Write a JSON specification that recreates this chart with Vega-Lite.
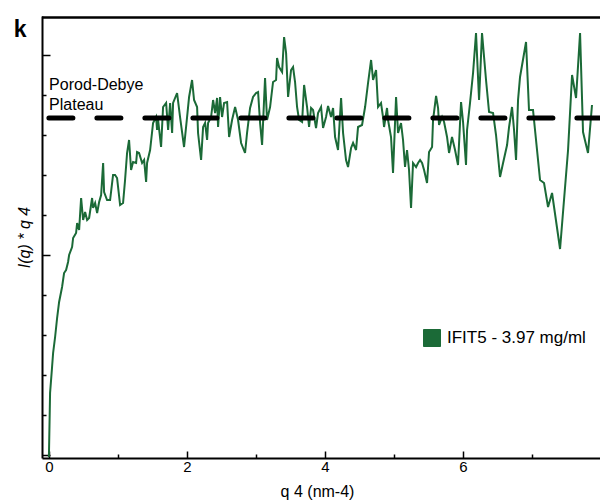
{
  "$schema": "https://vega.github.io/schema/vega-lite/v6.json",
  "width": 558,
  "height": 442,
  "autosize": {"type": "none"},
  "padding": {"left": 42, "top": 16, "right": 0, "bottom": 42},
  "background": "white",
  "config": {
    "view": {"stroke": null},
    "font": "Liberation Sans",
    "axis": {"grid": false, "domainColor": "black", "domainWidth": 2, "tickColor": "black", "tickWidth": 1.5, "labelColor": "black", "titleColor": "black", "labelFont": "Liberation Sans", "titleFont": "Liberation Sans", "titleFontWeight": "normal"}
  },
  "layer": [
    {
      "data": {"values": [{"q0": -0.1, "q1": 8.2, "edge": 4.375}]},
      "mark": {"type": "rule", "strokeWidth": 2.5, "color": "black"},
      "encoding": {
        "x": {"field": "q0", "type": "quantitative", "scale": {"domain": [-0.1, 7.988], "nice": false, "zero": false}},
        "x2": {"field": "q1"},
        "y": {"field": "edge", "type": "quantitative", "scale": {"domain": [-0.03, 4.39], "nice": false, "zero": false}}
      }
    },
    {
      "data": {"values": [
        {"q4":0.0,"Iq4":-0.02},{"q4":0.01,"Iq4":0.35},{"q4":0.017,"Iq4":0.62},{"q4":0.046,"Iq4":0.88},{"q4":0.061,"Iq4":1.02},{"q4":0.09,"Iq4":1.18},{"q4":0.119,"Iq4":1.37},{"q4":0.148,"Iq4":1.53},{"q4":0.191,"Iq4":1.68},{"q4":0.22,"Iq4":1.82},
        {"q4":0.249,"Iq4":1.85},{"q4":0.278,"Iq4":1.93},{"q4":0.293,"Iq4":2.0},{"q4":0.336,"Iq4":2.08},{"q4":0.351,"Iq4":2.17},{"q4":0.394,"Iq4":2.22},{"q4":0.409,"Iq4":2.32},{"q4":0.438,"Iq4":2.25},{"q4":0.467,"Iq4":2.57},{"q4":0.496,"Iq4":2.35},
        {"q4":0.525,"Iq4":2.43},{"q4":0.554,"Iq4":2.35},{"q4":0.583,"Iq4":2.37},{"q4":0.626,"Iq4":2.57},{"q4":0.641,"Iq4":2.47},{"q4":0.67,"Iq4":2.52},{"q4":0.699,"Iq4":2.42},{"q4":0.728,"Iq4":2.53},{"q4":0.757,"Iq4":2.6},{"q4":0.786,"Iq4":2.92},
        {"q4":0.8,"Iq4":2.63},{"q4":0.843,"Iq4":2.55},{"q4":0.887,"Iq4":2.55},{"q4":0.93,"Iq4":2.8},{"q4":0.959,"Iq4":2.8},{"q4":0.988,"Iq4":2.77},{"q4":1.032,"Iq4":2.5},{"q4":1.075,"Iq4":2.52},{"q4":1.104,"Iq4":2.75},{"q4":1.133,"Iq4":3.02},
        {"q4":1.162,"Iq4":3.15},{"q4":1.191,"Iq4":2.85},{"q4":1.22,"Iq4":2.93},{"q4":1.264,"Iq4":2.92},{"q4":1.278,"Iq4":3.03},{"q4":1.307,"Iq4":3.02},{"q4":1.351,"Iq4":2.92},{"q4":1.38,"Iq4":2.95},{"q4":1.409,"Iq4":2.73},{"q4":1.423,"Iq4":2.92},
        {"q4":1.467,"Iq4":3.05},{"q4":1.51,"Iq4":3.32},{"q4":1.554,"Iq4":3.38},{"q4":1.568,"Iq4":3.25},{"q4":1.583,"Iq4":3.35},{"q4":1.626,"Iq4":3.08},{"q4":1.655,"Iq4":3.48},{"q4":1.699,"Iq4":3.52},{"q4":1.728,"Iq4":3.25},{"q4":1.757,"Iq4":3.52},
        {"q4":1.786,"Iq4":3.22},{"q4":1.8,"Iq4":3.52},{"q4":1.858,"Iq4":3.62},{"q4":1.901,"Iq4":3.38},{"q4":1.959,"Iq4":3.08},{"q4":2.003,"Iq4":3.38},{"q4":2.032,"Iq4":3.58},{"q4":2.075,"Iq4":3.75},{"q4":2.104,"Iq4":3.55},{"q4":2.148,"Iq4":3.48},
        {"q4":2.162,"Iq4":3.22},{"q4":2.206,"Iq4":2.95},{"q4":2.235,"Iq4":3.28},{"q4":2.264,"Iq4":3.32},{"q4":2.293,"Iq4":3.15},{"q4":2.307,"Iq4":3.32},{"q4":2.351,"Iq4":3.38},{"q4":2.38,"Iq4":3.55},{"q4":2.409,"Iq4":3.42},{"q4":2.438,"Iq4":3.57},
        {"q4":2.452,"Iq4":3.28},{"q4":2.481,"Iq4":3.58},{"q4":2.51,"Iq4":3.38},{"q4":2.539,"Iq4":3.52},{"q4":2.583,"Iq4":3.53},{"q4":2.612,"Iq4":3.18},{"q4":2.655,"Iq4":3.35},{"q4":2.699,"Iq4":3.48},{"q4":2.742,"Iq4":3.35},{"q4":2.786,"Iq4":3.12},
        {"q4":2.843,"Iq4":3.02},{"q4":2.872,"Iq4":3.22},{"q4":2.916,"Iq4":3.47},{"q4":2.959,"Iq4":3.58},{"q4":3.003,"Iq4":3.62},{"q4":3.032,"Iq4":3.63},{"q4":3.061,"Iq4":3.32},{"q4":3.09,"Iq4":3.1},{"q4":3.133,"Iq4":3.77},{"q4":3.162,"Iq4":3.35},
        {"q4":3.206,"Iq4":3.48},{"q4":3.249,"Iq4":3.73},{"q4":3.293,"Iq4":3.75},{"q4":3.307,"Iq4":3.97},{"q4":3.336,"Iq4":3.88},{"q4":3.38,"Iq4":3.83},{"q4":3.409,"Iq4":4.18},{"q4":3.438,"Iq4":4.02},{"q4":3.467,"Iq4":3.58},{"q4":3.51,"Iq4":3.85},
        {"q4":3.539,"Iq4":3.88},{"q4":3.568,"Iq4":3.73},{"q4":3.597,"Iq4":3.48},{"q4":3.626,"Iq4":3.35},{"q4":3.67,"Iq4":3.33},{"q4":3.699,"Iq4":3.7},{"q4":3.742,"Iq4":3.48},{"q4":3.771,"Iq4":3.28},{"q4":3.8,"Iq4":3.47},{"q4":3.829,"Iq4":3.45},
        {"q4":3.872,"Iq4":3.27},{"q4":3.901,"Iq4":3.42},{"q4":3.945,"Iq4":3.48},{"q4":3.974,"Iq4":3.27},{"q4":4.017,"Iq4":3.38},{"q4":4.046,"Iq4":3.49},{"q4":4.09,"Iq4":3.38},{"q4":4.119,"Iq4":3.47},{"q4":4.148,"Iq4":3.18},{"q4":4.191,"Iq4":3.05},
        {"q4":4.235,"Iq4":3.57},{"q4":4.264,"Iq4":3.22},{"q4":4.307,"Iq4":2.95},{"q4":4.336,"Iq4":2.88},{"q4":4.38,"Iq4":3.07},{"q4":4.409,"Iq4":3.12},{"q4":4.452,"Iq4":3.05},{"q4":4.481,"Iq4":3.28},{"q4":4.539,"Iq4":3.3},{"q4":4.583,"Iq4":3.48},
        {"q4":4.626,"Iq4":3.72},{"q4":4.67,"Iq4":3.95},{"q4":4.699,"Iq4":3.75},{"q4":4.742,"Iq4":3.85},{"q4":4.771,"Iq4":3.48},{"q4":4.814,"Iq4":3.52},{"q4":4.843,"Iq4":3.38},{"q4":4.858,"Iq4":3.28},{"q4":4.901,"Iq4":3.47},{"q4":4.916,"Iq4":3.35},
        {"q4":4.959,"Iq4":3.18},{"q4":4.988,"Iq4":2.82},{"q4":5.032,"Iq4":3.58},{"q4":5.061,"Iq4":3.22},{"q4":5.104,"Iq4":3.32},{"q4":5.133,"Iq4":3.15},{"q4":5.162,"Iq4":2.88},{"q4":5.191,"Iq4":3.05},{"q4":5.22,"Iq4":2.85},{"q4":5.249,"Iq4":2.47},
        {"q4":5.278,"Iq4":2.92},{"q4":5.322,"Iq4":2.88},{"q4":5.351,"Iq4":2.92},{"q4":5.38,"Iq4":2.95},{"q4":5.409,"Iq4":2.92},{"q4":5.438,"Iq4":2.85},{"q4":5.481,"Iq4":2.72},{"q4":5.51,"Iq4":3.03},{"q4":5.554,"Iq4":3.08},{"q4":5.568,"Iq4":3.35},
        {"q4":5.612,"Iq4":3.59},{"q4":5.641,"Iq4":3.47},{"q4":5.655,"Iq4":3.3},{"q4":5.699,"Iq4":3.38},{"q4":5.728,"Iq4":3.33},{"q4":5.771,"Iq4":3.18},{"q4":5.8,"Iq4":3.02},{"q4":5.843,"Iq4":3.18},{"q4":5.887,"Iq4":3.05},{"q4":5.93,"Iq4":2.9},
        {"q4":5.974,"Iq4":3.53},{"q4":6.003,"Iq4":3.33},{"q4":6.046,"Iq4":2.9},{"q4":6.061,"Iq4":3.25},{"q4":6.104,"Iq4":3.52},{"q4":6.148,"Iq4":3.82},{"q4":6.191,"Iq4":4.22},{"q4":6.235,"Iq4":3.55},{"q4":6.278,"Iq4":4.22},{"q4":6.336,"Iq4":3.75},
        {"q4":6.38,"Iq4":3.43},{"q4":6.438,"Iq4":3.42},{"q4":6.481,"Iq4":3.2},{"q4":6.539,"Iq4":2.78},{"q4":6.583,"Iq4":2.92},{"q4":6.641,"Iq4":3.1},{"q4":6.67,"Iq4":3.28},{"q4":6.713,"Iq4":3.48},{"q4":6.742,"Iq4":3.25},{"q4":6.771,"Iq4":2.95},
        {"q4":6.8,"Iq4":3.55},{"q4":6.829,"Iq4":3.78},{"q4":6.916,"Iq4":4.13},{"q4":6.959,"Iq4":3.45},{"q4":7.017,"Iq4":3.45},{"q4":7.119,"Iq4":2.75},{"q4":7.177,"Iq4":2.72},{"q4":7.235,"Iq4":2.48},{"q4":7.293,"Iq4":2.62},{"q4":7.409,"Iq4":2.06},
        {"q4":7.525,"Iq4":3.05},{"q4":7.583,"Iq4":3.8},{"q4":7.641,"Iq4":3.57},{"q4":7.699,"Iq4":4.22},{"q4":7.742,"Iq4":3.23},{"q4":7.814,"Iq4":3.02},{"q4":7.872,"Iq4":3.5}
      ]},
      "mark": {"type": "line", "strokeWidth": 2},
      "encoding": {
        "x": {"field": "q4", "type": "quantitative",
          "axis": {"values": [0,0.5,1,1.5,2,2.5,3,3.5,4,4.5,5,5.5,6,6.5,7,7.5,8],
            "format": "d",
            "labelExpr": "datum.value % 2 === 0 ? datum.label : ''",
            "tickSize": {"condition": {"test": "datum.value % 2 === 0", "value": -7}, "value": -4},
            "labelPadding": 8, "labelFontSize": 15, "labelFlush": false, "labelOverlap": false,
            "title": "q 4 (nm-4)", "titleFontSize": 16, "titleX": 275, "titlePadding": 6}},
        "y": {"field": "Iq4", "type": "quantitative",
          "axis": {"values": [0,0.2,0.4,0.6,0.8,1,1.2,1.4,1.6,1.8,2,2.2,2.4,2.6,2.8,3,3.2,3.4,3.6,3.8,4,4.2],
            "labels": false,
            "tickSize": {"condition": {"test": "datum.value % 1 === 0", "value": -8}, "value": -4},
            "title": "I(q) * q 4", "titleFontSize": 16, "titleFontStyle": "italic", "titlePadding": 9}},
        "color": {"datum": "IFIT5 - 3.97 mg/ml", "type": "nominal",
          "scale": {"range": ["#1b6a37"]},
          "legend": {"title": null, "orient": "none", "legendX": 381, "legendY": 313, "padding": 0,
            "symbolType": "square", "symbolSize": 289, "labelFontSize": 17, "labelOffset": 6, "labelColor": "black", "labelFont": "Liberation Sans",
            "encode": {"symbols": {"update": {"fill": {"value": "#1b6a37"}, "stroke": {"value": "black"}, "strokeWidth": {"value": 1}, "opacity": {"value": 1}}}}}}
      }
    },
    {
      "data": {"values": [{"q0": 0, "q1": 8, "level": 3.37}]},
      "mark": {"type": "rule", "strokeWidth": 5, "strokeDash": [24, 24], "strokeCap": "round", "color": "black"},
      "encoding": {
        "x": {"field": "q0", "type": "quantitative"},
        "x2": {"field": "q1"},
        "y": {"field": "level", "type": "quantitative"}
      }
    },
    {
      "data": {"values": [{"q4": 0.003, "Iq4": 3.65, "label": "Porod-Debye\nPlateau"}]},
      "mark": {"type": "text", "align": "left", "baseline": "alphabetic", "fontSize": 16, "lineHeight": 20, "lineBreak": "\n", "color": "black"},
      "encoding": {
        "x": {"field": "q4", "type": "quantitative"},
        "y": {"field": "Iq4", "type": "quantitative"},
        "text": {"field": "label"}
      }
    },
    {
      "data": {"values": [{"q4": -0.417, "Iq4": 4.18, "label": "k"}]},
      "mark": {"type": "text", "align": "center", "baseline": "alphabetic", "fontSize": 23, "fontWeight": "bold", "color": "black"},
      "encoding": {
        "x": {"field": "q4", "type": "quantitative"},
        "y": {"field": "Iq4", "type": "quantitative"},
        "text": {"field": "label"}
      }
    }
  ]
}
